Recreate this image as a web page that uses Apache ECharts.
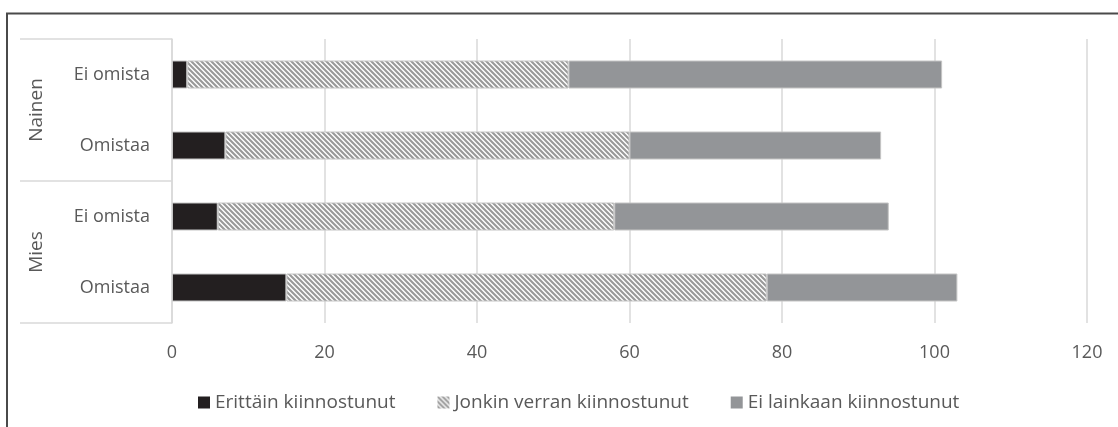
<!DOCTYPE html>
<html><head><meta charset="utf-8">
<script src="https://cdn.jsdelivr.net/npm/echarts@6/dist/echarts.min.js"></script>
<style>html,body{margin:0;padding:0;background:#fff}#c{width:1118px;height:427px}</style>
</head><body><div id="c"></div>
<script>
// Data (top to bottom)
const categories = ['Ei omista', 'Omistaa', 'Ei omista', 'Omistaa'];
const groups = ['Nainen', 'Mies'];
const seriesNames = ['Erittäin kiinnostunut', 'Jonkin verran kiinnostunut', 'Ei lainkaan kiinnostunut'];
const erittain = [2, 7, 6, 15];
const jonkin = [50, 53, 52, 63];
const eiLainkaan = [49, 33, 36, 25];
const xMin = 0, xMax = 120, xStep = 20;

function hatch() {
  const p = 5;
  const c = document.createElement('canvas');
  c.width = p; c.height = p;
  const g = c.getContext('2d');
  g.fillStyle = '#ffffff';
  g.fillRect(0, 0, p, p);
  g.strokeStyle = '#999999';
  g.lineWidth = 2.1;
  g.beginPath();
  g.moveTo(-1, -1); g.lineTo(p + 1, p + 1);
  g.moveTo(-1, p - 1); g.lineTo(1, p + 1);
  g.moveTo(p - 1, -1); g.lineTo(p + 1, 1);
  g.stroke();
  return { image: c, repeat: 'repeat' };
}

const FONT = 'Open Sans';
const TXT = '#595959';
const chart = echarts.init(document.getElementById('c'), null, { renderer: 'canvas' });
const colors = ['#231f20', hatch(), '#939598'];
const values = [erittain, jonkin, eiLainkaan];

chart.setOption({
  animation: false,
  backgroundColor: '#fff',
  textStyle: { fontFamily: FONT },
  grid: { left: 172, right: 31, top: 39, bottom: 104, containLabel: false },
  legend: {
    data: seriesNames,
    left: 193, top: 388,
    itemWidth: 12, itemHeight: 12, itemGap: 42,
    icon: 'rect',
    itemStyle: { borderWidth: 0 },
    textStyle: { fontFamily: FONT, fontSize: 19, color: TXT }
  },
  xAxis: {
    type: 'value', min: xMin, max: xMax, interval: xStep,
    axisLine: { show: false }, axisTick: { show: false },
    splitLine: { lineStyle: { color: '#d9d9d9', width: 1.5 } },
    axisLabel: { margin: 21, fontFamily: FONT, fontSize: 18, color: TXT }
  },
  yAxis: [{
    type: 'category', data: categories, inverse: true,
    axisLine: { show: true, lineStyle: { color: '#d9d9d9', width: 1.5 } },
    axisTick: { show: false },
    axisLabel: { margin: 22, fontFamily: FONT, fontSize: 18, color: TXT }
  }, {
    type: 'category', data: groups, inverse: true, position: 'left', offset: 0,
    axisLine: { show: false },
    axisTick: { show: true, length: 152, lineStyle: { color: '#d9d9d9', width: 1.5 } },
    axisLabel: { rotate: 90, margin: 126, fontFamily: FONT, fontSize: 19, color: TXT }
  }],
  series: seriesNames.map((n, i) => ({
    name: n, type: 'bar', stack: 'total', yAxisIndex: 0,
    barWidth: 28,
    data: values[i],
    itemStyle: { color: colors[i], borderColor: '#c4c4c4', borderWidth: 1 }
  })),
  graphic: [{
    type: 'polyline', silent: true,
    shape: { points: [[7, 440], [7, 13.5], [1130, 13.5]] },
    style: { fill: null, stroke: '#4a4a4a', lineWidth: 2 }
  }]
});
</script></body></html>
